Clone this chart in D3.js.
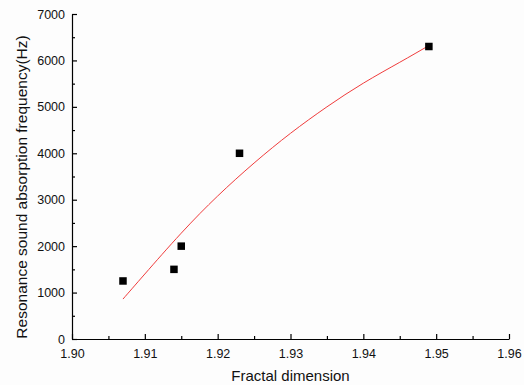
<!DOCTYPE html>
<html>
<head>
<meta charset="utf-8">
<script src="https://d3js.org/d3.v7.min.js"></script>
<style>
  body { margin: 0; background: #fdfdfd; }
  text { font-family: "Liberation Sans", Arial, sans-serif; fill: #111; }
</style>
</head>
<body>
<div id="chart"></div>
<script>
var width  = 524,
    height = 385,
    margin = {top: 14, right: 15, bottom: 46, left: 72};

// measured points
var fractalDim = [1.907, 1.914, 1.915, 1.923, 1.949];
var frequency  = [1250, 1500, 2000, 4000, 6300];

// fitted curve
var fitX = [1.907, 1.910, 1.915, 1.920, 1.925, 1.930, 1.935, 1.940, 1.945, 1.949];
var fitY = [860, 1400, 2280, 3080, 3790, 4430, 5000, 5510, 5960, 6320];

var xTicks = [1.90, 1.91, 1.92, 1.93, 1.94, 1.95, 1.96];
var yTicks = [0, 1000, 2000, 3000, 4000, 5000, 6000, 7000];

var svg = d3.select("#chart").append("svg")
    .attr("width", width)
    .attr("height", height);

var x = d3.scaleLinear()
    .domain([1.90, 1.96])
    .range([margin.left, width - margin.right]);

var y = d3.scaleLinear()
    .domain([0, 7000])
    .range([height - margin.bottom, margin.top]);

// minor ticks first (inward, short)
var xMinor = d3.range(1.905, 1.96, 0.01);
var yMinor = d3.range(500, 7000, 1000);

svg.append("g")
    .attr("transform", "translate(0," + y(0) + ")")
    .call(d3.axisBottom(x).tickValues(xMinor).tickSize(-3).tickFormat(""))
    .call(g => g.select(".domain").remove());

svg.append("g")
    .attr("transform", "translate(" + x(1.90) + ",0)")
    .call(d3.axisLeft(y).tickValues(yMinor).tickSize(-3).tickFormat(""))
    .call(g => g.select(".domain").remove());

// major axes
var xAxis = svg.append("g")
    .attr("transform", "translate(0," + y(0) + ")")
    .call(d3.axisBottom(x).tickValues(xTicks).tickSize(-5).tickSizeOuter(0)
        .tickPadding(10).tickFormat(d3.format(".2f")));

var yAxis = svg.append("g")
    .attr("transform", "translate(" + x(1.90) + ",0)")
    .call(d3.axisLeft(y).tickValues(yTicks).tickSize(-5).tickSizeOuter(0)
        .tickPadding(7).tickFormat(d3.format("d")));

[xAxis, yAxis].forEach(function(g){
    g.selectAll("text")
        .attr("font-size", 12.5)
        .attr("font-family", "Liberation Sans, Arial, sans-serif")
        .attr("fill", "#111");
    g.selectAll("line, path").attr("stroke", "#000").attr("stroke-width", 1.2);
});

svg.selectAll("g").selectAll("line").attr("stroke", "#000").attr("stroke-width", 1.2);

// fitted line
var line = d3.line()
    .x(function(d){ return x(d[0]); })
    .y(function(d){ return y(d[1]); })
    .curve(d3.curveNatural);

svg.append("path")
    .datum(d3.zip(fitX, fitY))
    .attr("d", line)
    .attr("fill", "none")
    .attr("stroke", "#f03c3c")
    .attr("stroke-width", 1);

// markers
var size = 7.5;
svg.selectAll(".pt")
    .data(d3.zip(fractalDim, frequency))
    .enter().append("rect")
    .attr("class", "pt")
    .attr("x", function(d){ return x(d[0]) - size / 2; })
    .attr("y", function(d){ return y(d[1]) - size / 2; })
    .attr("width", size)
    .attr("height", size)
    .attr("fill", "#000");

// axis titles
svg.append("text")
    .attr("x", (x(1.90) + x(1.96)) / 2)
    .attr("y", 381)
    .attr("text-anchor", "middle")
    .attr("font-size", 15)
    .text("Fractal dimension");

svg.append("text")
    .attr("transform", "translate(27,187) rotate(-90)")
    .attr("text-anchor", "middle")
    .attr("font-size", 15.5)
    .text("Resonance sound absorption frequency(Hz)");
</script>
</body>
</html>
